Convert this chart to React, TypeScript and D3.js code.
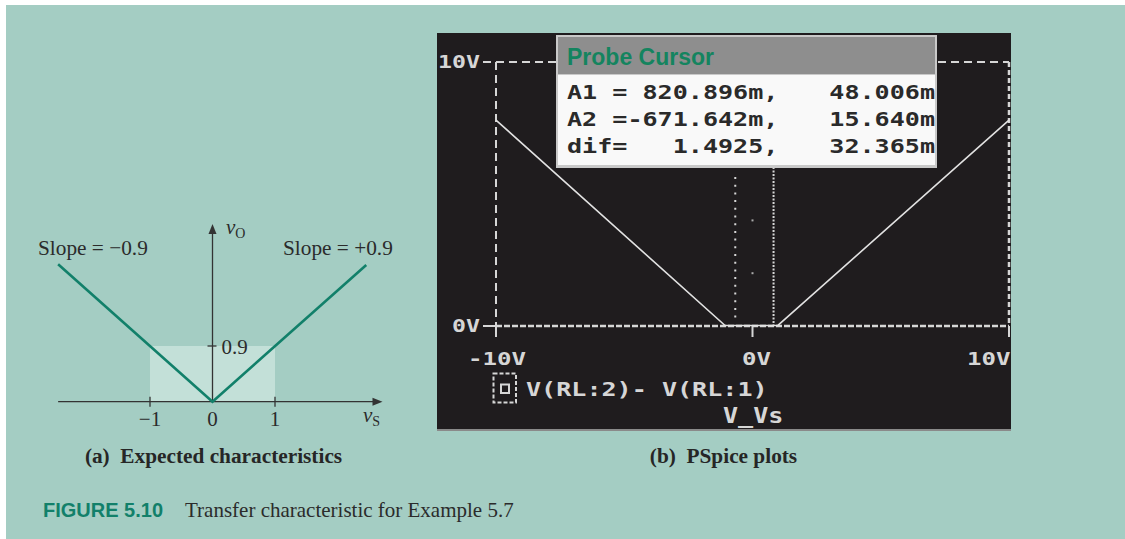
import * as d3 from "d3";

const W = 1125;
const H = 539;

// (a) expected characteristic
const idealVs = [-2.47, 0, 2.46];
const idealVo = [2.22, 0, 2.21];
const idealTicks = [-1, 0, 1];
const idealTickLabels = ["−1", "0", "1"];
const kneeVo = 0.9;

// (b) PSpice trace
const simVs = [-10, -1.07, 0.99, 10];
const simVo = [7.8, 0.02, 0.02, 7.8];
const simXTicks = [-10, 0, 10];
const simXLabels = ["-10V", "0V", "10V"];
const simYTicks = [0, 10];
const simYLabels = ["0V", "10V"];
const cursorA1 = 0.820896;
const cursorA2 = -0.671642;
const strayVo = [4.0, 2.0];
const cursorRows = [
  ["A1 = 820.896m,", "48.006m"],
  ["A2 =-671.642m,", "15.640m"],
  ["dif=   1.4925,", "32.365m"],
];

const SERIF = "'Liberation Serif', 'Times New Roman', serif";
const SANS = "'Liberation Sans', Arial, sans-serif";
const MONO = "'DejaVu Sans Mono', monospace";
const GREEN = "#12806a";
const SCREEN_FG = "#d6d6d6";
const INK = "#2b2b2b";

function MonoText({ x, y, text, size, fill, anchor = "start", charW = 15.1 }: any) {
  return (
    <text
      x={x}
      y={y}
      fontFamily={MONO}
      fontWeight="bold"
      fontSize={size}
      fill={fill}
      textAnchor={anchor}
      textLength={text.length * charW}
      lengthAdjust="spacingAndGlyphs"
      style={{ whiteSpace: "pre" }}
    >
      {text}
    </text>
  );
}

function IdealPlot() {
  const x = d3.scaleLinear().domain([-1, 1]).range([150, 275]);
  const y = d3.scaleLinear().domain([0, kneeVo]).range([401.7, 346]);
  const pts = idealVs.map((v, i) => [x(v), y(idealVo[i])] as [number, number]);
  const line = d3.line();
  const xEnd = x(2.72);
  const yEnd = y(2.87);
  return (
    <g>
      <rect x={x(-1)} y={y(kneeVo)} width={x(1) - x(-1)} height={y(0) - y(kneeVo)} fill="#c3e0d8" />
      {/* axes */}
      <line x1={x(-2.47)} x2={xEnd - 6} y1={y(0)} y2={y(0)} stroke="#333" strokeWidth={1.3} />
      <path d={`M${xEnd},${y(0)} l-10,-4 l0,8 z`} fill="#333" />
      <line x1={x(0)} x2={x(0)} y1={y(0)} y2={yEnd + 6} stroke="#333" strokeWidth={1.3} />
      <path d={`M${x(0)},${yEnd} l-4,10 l8,0 z`} fill="#333" />
      {idealTicks.filter((t) => t !== 0).map((t) => (
        <line key={t} x1={x(t)} x2={x(t)} y1={y(0) - 5} y2={y(0) + 5} stroke="#333" strokeWidth={1.3} />
      ))}
      {idealTicks.map((t, i) => (
        <text key={t} x={x(t)} y={425.5} textAnchor="middle" fontFamily={SERIF} fontSize={21} fill={INK}>
          {idealTickLabels[i]}
        </text>
      ))}
      <line x1={x(0) - 5} x2={x(0) + 4} y1={y(kneeVo)} y2={y(kneeVo)} stroke="#333" strokeWidth={1.3} />
      <text x={x(0) + 9} y={y(kneeVo) + 8} fontFamily={SERIF} fontSize={21} fill={INK}>0.9</text>
      {/* axis names */}
      <text x={226} y={234} fontFamily={SERIF} fontSize={21} fontStyle="italic" fill={INK}>
        v<tspan fontStyle="normal" fontSize={14} dy={4}>O</tspan>
      </text>
      <text x={363} y={422} fontFamily={SERIF} fontSize={21} fontStyle="italic" fill={INK}>
        v<tspan fontStyle="normal" fontSize={14} dy={4}>S</tspan>
      </text>
      <path d={line(pts) ?? ""} fill="none" stroke={GREEN} strokeWidth={2.6} />
      <text x={38} y={255} fontFamily={SERIF} fontSize={21.3} fill={INK}>Slope = −0.9</text>
      <text x={283} y={255} fontFamily={SERIF} fontSize={21.3} fill={INK}>Slope = +0.9</text>
      <text x={213.5} y={463} textAnchor="middle" fontFamily={SERIF} fontWeight="bold" fontSize={21.3} fill="#262626" style={{ whiteSpace: "pre" }}>
        (a)  Expected characteristics
      </text>
    </g>
  );
}

function PspicePlot() {
  const x = d3.scaleLinear().domain([-10, 10]).range([496, 1009]);
  const y = d3.scaleLinear().domain([0, 10]).range([326, 62]);
  const line = d3.line<number>().x((v) => x(v)).y((_, i) => y(simVo[i]));
  const y0 = y(0);
  const yTop = y(10);
  // x tick labels: first starts left of tick, middle hugs tick, last ends on tick
  const labelX = [x(-10) - 28, x(0) - 10.5, x(10) - 42];
  return (
    <g>
      <rect x={437} y={33} width={574} height={397} fill="#1f1c1e" />
      <rect x={437} y={429} width={574} height={2} fill="#8a8a8a" />
      {/* frame */}
      <line x1={483} x2={x(10)} y1={yTop} y2={yTop} stroke={SCREEN_FG} strokeWidth={2} strokeDasharray="8,5" />
      <line x1={x(-10)} x2={x(-10)} y1={yTop} y2={y0} stroke={SCREEN_FG} strokeWidth={2} strokeDasharray="8,5" />
      <line x1={x(10)} x2={x(10)} y1={yTop} y2={y0} stroke={SCREEN_FG} strokeWidth={2.5} strokeDasharray="5,3" />
      <line x1={483} x2={x(-10)} y1={y0} y2={y0} stroke={SCREEN_FG} strokeWidth={2} />
      <line x1={x(-10)} x2={x(10)} y1={y0} y2={y0} stroke={SCREEN_FG} strokeWidth={2.5} strokeDasharray="6,2" />
      {simXTicks.map((t) => (
        <line key={t} x1={x(t)} x2={x(t)} y1={y0} y2={y0 + 11} stroke={SCREEN_FG} strokeWidth={2} />
      ))}
      {/* cursors */}
      <line x1={x(cursorA2)} x2={x(cursorA2)} y1={177} y2={y0 - 4} stroke={SCREEN_FG} strokeWidth={2} strokeDasharray="2,5.7" />
      <line x1={x(cursorA1)} x2={x(cursorA1)} y1={167} y2={y0} stroke={SCREEN_FG} strokeWidth={2} strokeDasharray="2,1.5" />
      {strayVo.map((v) => (
        <rect key={v} x={x(0) - 1} y={y(v) - 1} width={2} height={2} fill="#aaa" />
      ))}
      <path d={line(simVs) ?? ""} fill="none" stroke="#e2e2e2" strokeWidth={1.6} />
      {/* axis labels */}
      {simYTicks.map((t, i) => (
        <MonoText key={t} x={480} y={y(t) + 6} text={simYLabels[i]} size={18} fill={SCREEN_FG} anchor="end" charW={14} />
      ))}
      {simXTicks.map((t, i) => (
        <MonoText key={t} x={labelX[i]} y={365} text={simXLabels[i]} size={18} fill={SCREEN_FG} charW={14.5} />
      ))}
      {/* legend */}
      <rect x={493.5} y={373.5} width={22.5} height={29} fill="none" stroke={SCREEN_FG} strokeWidth={2} strokeDasharray="4,2" />
      <rect x={501} y={384.5} width={8} height={8.5} fill="none" stroke={SCREEN_FG} strokeWidth={2} />
      <MonoText x={526} y={396} text="V(RL:2)- V(RL:1)" size={20} fill={SCREEN_FG} />
      <MonoText x={723} y={423} text="V_Vs" size={21} fill={SCREEN_FG} />
      {/* probe cursor window */}
      <rect x={556} y={35} width={381} height={133} fill="#c9c9c9" />
      <rect x={558} y={37} width={377} height={37} fill="#8e8e8e" />
      <rect x={558} y={75} width={377} height={90} fill="#f9f9f9" />
      <text x={567} y={65} fontFamily={SANS} fontWeight="bold" fontSize={23} fill="#14845f">Probe Cursor</text>
      {cursorRows.map((r, i) => (
        <g key={i}>
          <MonoText x={567} y={98.5 + i * 27} text={r[0]} size={19.5} fill="#2a2a2a" />
          <MonoText x={935} y={98.5 + i * 27} text={r[1]} size={19.5} fill="#2a2a2a" anchor="end" />
        </g>
      ))}
      <text x={723.5} y={463} textAnchor="middle" fontFamily={SERIF} fontWeight="bold" fontSize={21.3} fill="#262626" style={{ whiteSpace: "pre" }}>
        (b)  PSpice plots
      </text>
    </g>
  );
}

export default function App() {
  return (
    <svg width={W} height={H} viewBox={`0 0 ${W} ${H}`} style={{ position: "absolute", left: 0, top: 0, display: "block" }}>
      <rect width={W} height={H} fill="#ffffff" />
      <rect x={6} y={5} width={W - 6} height={H - 5} fill="#a4cdc3" />
      <IdealPlot />
      <PspicePlot />
      <text x={43} y={517} fontFamily={SANS} fontWeight="bold" fontSize={20} fill="#12806a">FIGURE 5.10</text>
      <text x={185} y={517} fontFamily={SERIF} fontSize={21} fill={INK}>Transfer characteristic for Example 5.7</text>
    </svg>
  );
}
